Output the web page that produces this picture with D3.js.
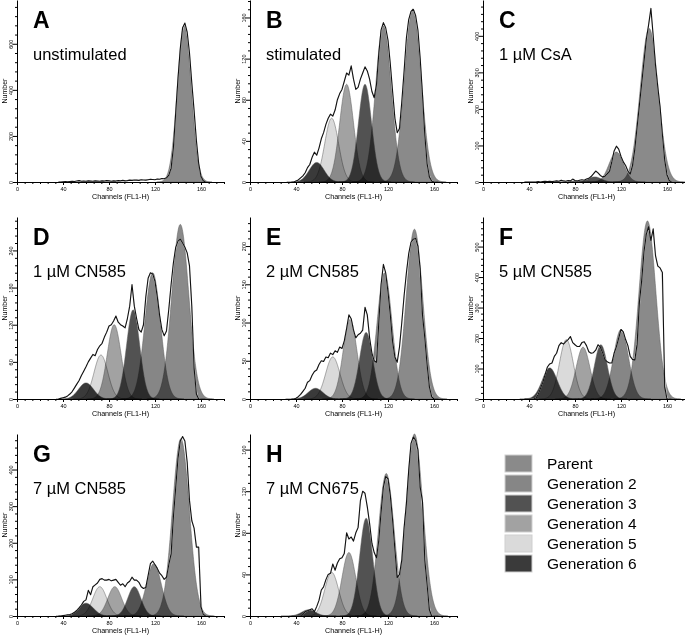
<!DOCTYPE html>
<html><head><meta charset="utf-8">
<script src="https://cdn.jsdelivr.net/npm/d3@7"></script>
<style>
body{margin:0;background:#fff}
svg{display:block}
text{font-family:"Liberation Sans",Arial,Helvetica,sans-serif;fill:#000}
</style>
</head><body>
<svg id="chart" width="685" height="635"></svg>
<script>
// ---------- data ----------
const channels = [36,38,40,42,44,46,48,50,52,54,56,58,60,
  62,64,66,68,70,72,74,76,78,80,82,84,86,
  88,90,92,94,96,98,100,102,104,106,108,110,112,
  114,116,118,120,122,124,126,128,130,132,134,136,138,
  140,142,144,146,148,150,152,154,156,158,160,162,164];

const genNames  = ["Parent","Generation 2","Generation 3","Generation 4","Generation 5","Generation 6"];
const genColors = ["#8a8a8a","#868686","#525252","#a2a2a2","#dadada","#3a3a3a"];

const panelLetters = ["A","B","C","D","E","F","G","H"];
const panelLabels  = ["unstimulated","stimulated","1 µM CsA","1 µM CN585","2 µM CN585","5 µM CN585","7 µM CN585","7 µM CN675"];
const yMaxes    = [790,177,498,294,238,597,497,175];
const yTickStep = [200,40,100,60,50,100,100,40];
const xTicks    = [0,40,80,120,160];
const xAxisLabel = "Channels (FL1-H)";
const yAxisLabel = "Number";

// measured histograms (black outline), one value per channel above
const outlineA = [0,0,1,2,1,2,3,2,4,6,3,4,3,
  5,4,3,5,4,3,5,4,6,5,3,5,4,
  6,5,7,5,6,8,7,9,8,7,10,9,8,
  10,12,11,10,13,12,15,14,18,30,60,150,300,
  450,580,670,690,650,560,430,310,180,80,25,5,0];
const outlineB = [0,0,1,2,4,6,9,14,17,24,29,26,33,
  42,48,56,62,66,64,70,80,86,90,98,106,104,
  113,100,90,92,100,106,112,108,100,88,82,95,125,
  148,155,150,138,115,88,62,48,52,78,108,140,158,
  166,168,162,148,120,85,46,18,5,1,0,0,0];
const outlineC = [0,0,0,0,0,0,1,0,1,2,1,2,1,
  2,3,2,5,3,2,4,3,8,4,3,5,6,
  5,8,10,15,22,30,25,18,14,16,22,30,55,
  85,98,90,70,55,45,30,22,45,90,150,210,270,
  330,390,430,475,400,320,260,205,130,60,20,4,0];
const outlineD = [0,1,2,3,5,8,12,18,24,30,38,45,52,
  60,66,72,70,80,86,90,100,108,118,120,126,134,
  124,120,118,115,130,150,185,150,130,112,108,120,165,
  195,204,202,190,165,135,112,102,110,145,185,220,245,
  255,258,252,245,236,215,150,50,8,0,0,0,0];
const outlineE = [0,0,1,3,6,10,14,22,24,31,36,38,45,
  50,49,55,54,60,58,63,61,68,66,76,92,110,
  105,90,80,84,86,90,120,110,80,60,50,48,100,
  150,176,165,140,110,75,55,48,68,100,135,165,190,
  205,209,210,200,170,110,80,45,16,3,0,0,0];
const outlineF = [0,0,0,0,0,3,15,35,55,80,105,115,118,
  140,150,175,185,180,188,195,205,185,178,172,172,185,
  188,175,155,150,152,160,178,170,152,130,122,118,118,
  150,172,200,228,220,195,175,140,130,128,180,317,390,
  483,540,565,520,558,470,436,430,415,40,0,0,0];
const outlineG = [0,0,1,2,3,4,6,10,15,22,30,40,44,
  70,58,80,85,90,100,102,98,98,100,96,98,100,
  92,84,88,80,90,95,106,98,98,92,80,75,78,
  110,143,150,140,130,117,110,100,106,140,170,270,350,
  430,478,490,478,420,315,260,240,188,188,25,5,0];
const outlineH = [0,0,0,0,0,2,4,5,6,7,4,9,15,
  25,28,35,40,41,50,44,51,55,56,60,80,74,
  76,72,80,85,111,120,118,105,89,70,61,56,73,
  100,124,134,132,116,92,64,37,40,54,85,108,140,
  166,172,169,160,124,110,54,30,6,0,0,0,0];

// fitted generation peaks (order: Parent, Gen2 ... Gen6)
const centerA = [145.5,116,100,84,71,58];  const heightA = [680,0,0,0,0,0];       const sigmaA = [6.0,6.5,5.7,6,6,6.5];
const centerB = [141.5,116,100,84,71,58];  const heightB = [168,152,95,95,62,19];   const sigmaB = [7.3,6.8,5.7,6,6,6.5];
const centerC = [144.5,116,97,80,66,55];   const heightC = [420,82,14,3,0,0];       const sigmaC = [7.8,6.3,5.8,6,6,6.5];
const centerD = [142,118,101,84.5,73,60];  const heightD = [282,204,144,120,71,26];  const sigmaD = [7.3,6.8,5.7,6,6,6.5];
const centerE = [143,117,101,87,72,57];    const heightE = [222,165,87,104,55,14];   const sigmaE = [7.1,6.5,5.7,6,6.2,6.5];
const centerF = [143,120,102.5,87,72.5,58];const heightF = [584,228,178,170,195,102];const sigmaF = [7.3,6.5,5.7,6,6,6.5];
const centerG = [142.5,119,102,85,72,60];  const heightG = [484,143,80,80,80,35];    const sigmaG = [7.3,6.5,5.7,6,6,6.5];
const centerH = [143,118.5,101,86,71,51];  const heightH = [175,137,94,61,42,6];     const sigmaH = [7.3,6.8,5.7,6,6,6];

const outlines = [outlineA,outlineB,outlineC,outlineD,outlineE,outlineF,outlineG,outlineH];
const centers  = [centerA,centerB,centerC,centerD,centerE,centerF,centerG,centerH];
const heights  = [heightA,heightB,heightC,heightD,heightE,heightF,heightG,heightH];
const sigmas   = [sigmaA,sigmaB,sigmaC,sigmaD,sigmaE,sigmaF,sigmaG,sigmaH];

// ---------- layout ----------
const colX = [17,250,483];
const rowBase = [182,399,616];
const plotH = 182, plotW = 207, xMax = 180;

const svg = d3.select("#chart");

panelLetters.forEach((letter, i) => {
  const col = i % 3, row = Math.floor(i / 3);
  const x0 = colX[col], base = rowBase[row];
  const x = d3.scaleLinear().domain([0, xMax]).range([x0, x0 + plotW]);
  const y = d3.scaleLinear().domain([0, yMaxes[i]]).range([base, base - plotH]);
  const g = svg.append("g");

  // generation peaks
  const area = d3.area().x(d => x(d[0])).y0(y(0)).y1(d => y(d[1]));
  const peaks = g.append("g");
  for (let k = genNames.length - 1; k >= 0; k--) {
    const h = heights[i][k]; if (h <= 0) continue;
    const c = centers[i][k], s = sigmas[i][k];
    const pts = d3.range(c - 4 * s, c + 4 * s + 0.01, 0.25).map(ch => [ch, h * Math.exp(-((ch - c) ** 2) / (2 * s * s))]);
    peaks.append("path").attr("d", area(pts))
      .attr("fill", genColors[k]).attr("stroke", "#5a5a5a").attr("stroke-width", 0.5)
      .style("mix-blend-mode", "multiply");
  }

  const data = channels.map((ch, j) => [ch, outlines[i][j]]);
  // fit line (light)
  g.append("path").attr("d", d3.line().x(d => x(d[0])).y(d => y(d[1])).curve(d3.curveBasis)(data))
    .attr("fill", "none").attr("stroke", "#e4e4e4").attr("stroke-width", 1.1);
  // measured outline
  g.append("path").attr("d", d3.line().x(d => x(d[0])).y(d => y(d[1]))(data))
    .attr("fill", "none").attr("stroke", "#111").attr("stroke-width", 1.1).attr("stroke-linejoin", "round");

  // x axis
  const xMinor = d3.range(0, xMax + 0.01, 40 / 6).filter(v => !xTicks.includes(Math.round(v)));
  g.append("g").attr("transform", `translate(0,${base})`)
    .call(d3.axisBottom(x).tickValues(xMinor).tickSize(2).tickSizeOuter(0).tickFormat(""))
    .call(a => a.select(".domain").remove());
  const xa = g.append("g").attr("transform", `translate(0,${base})`)
    .call(d3.axisBottom(x).tickValues(xTicks).tickSize(3).tickSizeOuter(0).tickPadding(2));
  xa.selectAll("text").style("font-size", "5.5px").style("font-family", "Liberation Sans, Arial, sans-serif");

  // y axis
  const step = yTickStep[i];
  const yMajor = d3.range(0, yMaxes[i] + 0.01, step);
  const yMinor = d3.range(0, yMaxes[i] + 0.01, step / 5).filter(v => Math.abs(v / step - Math.round(v / step)) > 1e-6);
  g.append("g").attr("transform", `translate(${x0},0)`)
    .call(d3.axisLeft(y).tickValues(yMinor).tickSize(2).tickSizeOuter(0).tickFormat(""))
    .call(a => a.select(".domain").remove());
  const ya = g.append("g").attr("transform", `translate(${x0},0)`)
    .call(d3.axisLeft(y).tickValues(yMajor).tickSize(4).tickSizeOuter(0));
  ya.selectAll("text").attr("transform", "rotate(-90)").attr("x", 0).attr("y", -4).attr("dy", 0)
    .attr("text-anchor", "middle").style("font-size", "5.5px").style("font-family", "Liberation Sans, Arial, sans-serif");

  // axis titles
  g.append("text").attr("x", x0 + plotW / 2).attr("y", base + 16.5).attr("text-anchor", "middle")
    .style("font-size", "7.2px").text(xAxisLabel);
  g.append("text").attr("transform", `translate(${x0 - 10},${base - 91}) rotate(-90)`).attr("text-anchor", "middle")
    .style("font-size", "7px").text(yAxisLabel);

  // panel letter & condition
  g.append("text").attr("x", x0 + 16).attr("y", base - 154).style("font-size", "23px").style("font-weight", "bold").text(letter);
  g.append("text").attr("x", x0 + 16).attr("y", base - 122).style("font-size", "16.5px").text(panelLabels[i]);
});

// legend
const leg = svg.append("g");
genNames.forEach((name, k) => {
  leg.append("rect").attr("x", 505).attr("y", 455 + 20 * k).attr("width", 27).attr("height", 17)
    .attr("fill", genColors[k]).attr("stroke", "#cfcfcf").attr("stroke-width", 1);
  leg.append("text").attr("x", 547).attr("y", 455 + 20 * k + 14).style("font-size", "15.5px").text(name);
});
</script>
</body></html>
